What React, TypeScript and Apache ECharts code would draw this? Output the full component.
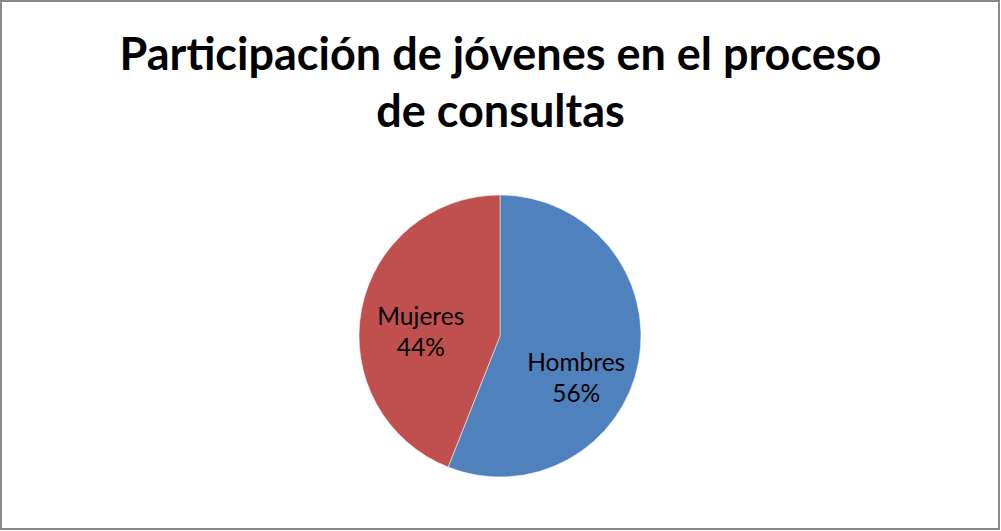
import React, { useEffect, useRef } from "react";
import * as echarts from "echarts";

const titleLines = ["Participación de jóvenes en el proceso", "de consultas"];
const categories = ["Hombres", "Mujeres"];
const values = [56, 44];
const colors = ["#4F81BD", "#C0504D"];
const labelOffsets = [
  [4, 27],
  [-7, 9],
];

export default function App() {
  const ref = useRef<HTMLDivElement>(null);
  useEffect(() => {
    document.body.style.margin = "0";
    const chart = echarts.init(ref.current!, null, { renderer: "svg" });
    chart.setOption({
      animation: false,
      backgroundColor: "#ffffff",
      title: {
        text: titleLines.join("\n"),
        left: "center",
        top: 19,
        textStyle: {
          fontFamily: "Lato",
          fontWeight: "bold",
          fontSize: 45,
          lineHeight: 57,
          color: "#000000",
        },
      },
      graphic: [
        {
          type: "rect",
          shape: { x: 1, y: 1, width: 998, height: 528 },
          style: { fill: "none", stroke: "#8a8a8a", lineWidth: 2 },
          silent: true,
        },
      ],
      series: [
        {
          type: "pie",
          center: [500, 336],
          radius: 141,
          startAngle: 90,
          clockwise: true,
          avoidLabelOverlap: false,
          itemStyle: { borderColor: "rgba(255,255,255,0.5)", borderWidth: 1 },
          label: {
            show: true,
            position: "inside",
            formatter: "{b}\n{d}%",
            fontFamily: "Lato",
            fontSize: 24.5,
            lineHeight: 31,
            color: "#000000",
          },
          labelLine: { show: false },
          emphasis: { disabled: true },
          data: categories.map((c, i) => ({
            name: c,
            value: values[i],
            itemStyle: { color: colors[i] },
            label: { offset: labelOffsets[i] },
          })),
        },
      ],
    });
    return () => chart.dispose();
  }, []);
  return (
    <div
      ref={ref}
      style={{ position: "absolute", left: 0, top: 0, width: 1001, height: 531 }}
    />
  );
}
